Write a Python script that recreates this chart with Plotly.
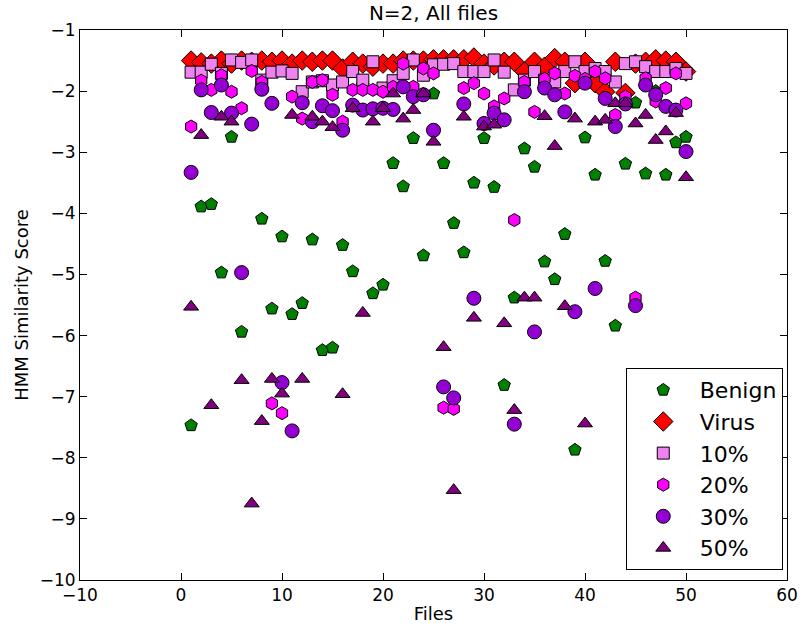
import plotly.graph_objects as go

files = list(range(1, 51))

benign = [-7.47, -3.89, -3.85, -4.97, -2.75, -5.94, -1.6, -4.09, -5.56, -4.38,
          -5.65, -5.47, -4.43, -6.24, -6.2, -4.52, -4.95, -1.9, -5.31, -5.17,
          -3.18, -3.56, -2.77, -4.69, -2.04, -3.18, -4.16, -4.64, -3.5, -2.77,
          -3.57, -6.81, -5.38, -2.94, -3.24, -4.79, -5.08, -4.34, -7.87, -2.76,
          -3.37, -4.78, -5.84, -3.19, -2.19, -3.35, -2.0, -3.37, -2.84, -2.75]

virus = [-1.5, -1.53, -1.55, -1.5, -1.55, -1.5, -1.52, -1.5, -1.52, -1.5,
         -1.55, -1.5, -1.52, -1.5, -1.5, -1.63, -1.52, -1.55, -1.6, -1.55,
         -1.55, -1.5, -1.5, -1.5, -1.48, -1.48, -1.48, -1.48, -1.45, -1.55,
         -1.58, -1.52, -1.52, -1.68, -1.52, -1.6, -1.46, -1.52, -1.87, -1.52,
         -1.87, -2.01, -1.52, -2.03, -1.55, -1.52, -1.48, -1.5, -1.52, -1.68]

p10 = [-1.69, -1.69, -1.56, -1.71, -1.49, -1.53, -1.49, -1.82, -1.69, -1.67,
       -1.71, -2.01, -1.85, -1.83, -1.9, -1.85, -1.68, -1.82, -1.52, -1.95,
       -1.83, -1.71, -1.49, -1.74, -1.57, -1.56, -1.55, -1.68, -1.68, -1.68,
       -1.49, -1.69, -1.98, -1.82, -1.68, -1.82, -1.85, -1.68, -1.52, -1.68,
       -1.63, -1.68, -1.85, -1.55, -1.52, -1.6, -1.68, -1.68, -1.63, -1.71]

p20 = [-2.58, -1.83, -1.98, -1.74, -2.01, -2.28, -1.67, -1.85, -7.11, -7.27,
       -2.09, -2.45, -1.85, -1.82, -2.06, -2.5, -1.98, -1.98, -1.98, -2.01,
       -1.93, -1.55, -1.93, -1.63, -1.71, -7.18, -7.2, -1.95, -1.87, -2.04,
       -2.25, -2.12, -4.11, -1.85, -2.34, -1.8, -1.71, -2.04, -1.75, -1.8,
       -1.68, -1.79, -2.39, -2.09, -5.38, -1.79, -2.17, -1.95, -1.71, -2.2]

p30 = [-3.33, -1.98, -2.35, -1.9, -2.36, -4.97, -2.54, -1.97, -2.2, -6.77,
       -7.56, -2.19, -2.5, -2.24, -2.32, -2.64, -2.23, -2.31, -2.29, -2.28,
       -2.3, -1.93, -2.09, -2.06, -2.64, -6.84, -7.02, -2.21, -5.39, -2.53,
       -2.36, -2.47, -7.45, -2.01, -5.94, -1.95, -2.06, -2.34, -5.61, -1.87,
       -5.23, -2.12, -2.58, -2.21, -5.51, -1.9, -2.06, -2.25, -2.31, -2.99]

p50 = [-5.53, -2.72, -7.14, -2.42, -2.5, -6.73, -8.75, -7.4, -6.71, -6.95,
       -2.39, -6.71, -2.42, -2.5, -2.59, -6.96, -2.28, -5.63, -2.5, -2.28,
       -2.04, -2.45, -2.31, -2.04, -2.83, -6.19, -8.53, -2.42, -5.71, -2.58,
       -2.55, -5.8, -7.22, -5.38, -5.38, -2.41, -2.9, -5.52, -2.45, -7.44,
       -2.5, -2.47, -2.2, -2.2, -2.53, -2.39, -2.8, -2.66, -2.36, -3.41]

series = [
    ("Benign", benign, "#008000", "pentagon", 13),
    ("Virus", virus, "#FF0000", "diamond", 15),
    ("10%", p10, "#EE82EE", "square", 12),
    ("20%", p20, "#FF00FF", "hexagon", 13),
    ("30%", p30, "#9400D3", "circle", 14),
    ("50%", p50, "#800080", "triangle-up", 13),
]

fig = go.Figure()
for name, ys, color, sym, sz in series:
    fig.add_trace(go.Scatter(
        x=files, y=ys, mode="markers", name=name, legendgroup=name,
        marker=dict(symbol=sym, size=sz, color=color,
                    line=dict(color="#000000", width=1)),
    ))

axis_common = dict(
    showgrid=False, zeroline=False, showline=True, linecolor="black",
    linewidth=1, mirror="ticks", ticks="inside", ticklen=7, tickwidth=1,
    tickcolor="black", tickfont=dict(family="DejaVu Sans", size=17, color="black"),
)

fig.update_layout(
    width=810, height=633,
    margin=dict(l=80, r=15, t=30, b=53),
    paper_bgcolor="white", plot_bgcolor="white",
    font=dict(family="DejaVu Sans", color="black"),
    title=dict(text="N=2, All files", x=0.5, xref="paper", xanchor="center",
               y=0.979, yanchor="middle",
               font=dict(size=20, family="DejaVu Sans")),
    xaxis=dict(range=[-10, 60], dtick=10, tick0=0,
               title=dict(text="Files", font=dict(size=18), standoff=2),
               **axis_common),
    yaxis=dict(range=[-10, -1], dtick=1,
               title=dict(text="HMM Similarity Score", font=dict(size=18), standoff=6),
               **axis_common),
    legend=dict(x=0.994, y=0.018, xanchor="right", yanchor="bottom",
                bgcolor="white", bordercolor="black", borderwidth=1,
                font=dict(size=22, family="DejaVu Sans"),
                tracegroupgap=0, traceorder="grouped", itemwidth=63),
    showlegend=True,
)

fig.write_html("out.html")
